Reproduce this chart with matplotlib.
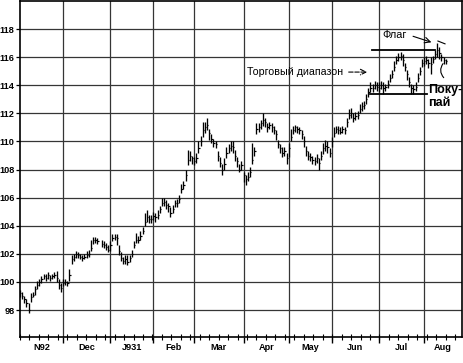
import numpy as np
import matplotlib
matplotlib.use("Agg")
import matplotlib.pyplot as plt
from matplotlib import transforms

nan = np.nan

# daily high / low / close, Nov 1992 - Aug 1993 (one value per trading day)
close = [
    # Nov
    99.2, 99.0, 98.8, 98.5, 98.0, 98.9, 99.1, 99.5, 99.8, 100.0,
    100.2, 100.4, 100.3, 100.5, 100.3, 100.4, 100.5, 100.3, 99.8, 99.6,
    # Dec
    99.9, 100.0, 99.9, 100.5, 101.6, 101.8, 102.0, 101.9, 101.8, 101.7, 101.8,
    101.9, 102.0, 102.4, 103.0, 103.0, 102.9, nan, 102.7, 102.6, 102.5, 102.3,
    # Jan
    102.6, 103.1, 103.2, 103.1, 102.2, 101.7, 101.5, 101.6, 101.4, 101.7,
    102.0, 102.6, 103.0, 103.0, 103.3, 103.6, 104.3, 104.6, 104.5, 104.5,
    # Feb
    104.7, 104.6, 104.8, 105.2, 105.6, 105.7, 105.5, 105.4, 104.9, 105.2,
    105.6, 105.6, 105.9, 106.6, 106.9, 107.6, 108.7, 109.0, 108.8,
    # Mar
    108.6, 108.8, 109.5, 110.0, 110.8, 111.0, 111.2, 110.6, 110.2, 109.9, 109.8, 109.0,
    108.5, 108.0, 108.4, 109.2, 109.5, 109.7, 109.6, 109.0, 108.6, 108.0, 108.3,
    # Apr
    107.6, 107.3, 107.5, 107.8, 108.7, 109.3, 110.9, 111.0, 111.3, 111.5, 111.4,
    111.0, 111.2, 111.0, 110.8, 110.5, 109.8, 109.5, 109.2, 109.3, 108.8,
    # May
    109.5, 110.3, 110.8, 111.0, 110.9, 110.8, 110.5, 110.0, 109.3, 109.0,
    108.9, 108.7, 108.6, 108.8, 108.5, 109.0, 109.5, 109.7, 109.6, 109.2,
    # Jun
    110.0, 110.6, 110.9, 110.8, 110.7, 110.9, 110.8, 111.4, 111.9, 112.0, 111.7,
    111.8, 111.9, 112.3, 112.5, 112.6, 113.0, 113.5, 113.8, 113.8, 114.0, 113.9,
    # Jul
    113.8, 114.0, 113.8, 113.9, 114.1, 114.5, 114.8, 115.3, 115.8, 116.0, 116.1,
    115.8, 115.3, 114.8, 114.2, 113.8, 113.7, 113.9, 114.5, 115.0, 115.6,
    # Aug
    115.7, 115.8, 115.6, 115.5, 115.9, 116.2, 116.5, 116.3, 116.0, 115.8, 115.7,
]
high = [
    99.4, 99.3, 99.0, 98.8, 98.5, 99.2, 99.3, 99.7, 100.1, 100.2,
    100.4, 100.6, 100.6, 100.7, 100.5, 100.6, 100.7, 100.8, 100.2, 99.9,
    100.2, 100.2, 100.1, 100.9, 101.9, 102.0, 102.2, 102.1, 102.0, 101.9, 102.0,
    102.2, 102.3, 103.0, 103.2, 103.2, 103.1, nan, 103.0, 102.9, 102.8, 102.6,
    102.9, 103.4, 103.4, 103.4, 102.6, 102.1, 101.8, 101.9, 101.9, 101.9,
    102.3, 102.9, 103.5, 103.3, 103.6, 103.9, 104.9, 105.1, 104.8, 104.8,
    105.0, 104.9, 105.1, 105.4, 106.0, 106.0, 105.8, 105.6, 105.3, 105.5,
    105.8, 105.9, 106.2, 107.0, 107.2, 108.0, 109.4, 109.3, 109.0,
    108.9, 109.2, 110.0, 110.4, 111.4, 111.4, 111.7, 110.9, 110.5, 110.2, 110.0, 109.3,
    108.9, 108.4, 108.8, 109.6, 109.8, 110.0, 110.0, 109.4, 108.9, 108.4, 108.6,
    107.8, 107.6, 107.8, 108.2, 109.9, 109.6, 111.3, 111.3, 111.5, 112.0, 111.7,
    111.3, 111.4, 111.3, 111.1, 110.8, 110.1, 109.8, 109.6, 109.6, 109.2,
    109.9, 110.9, 111.1, 111.2, 111.1, 111.0, 110.8, 110.4, 109.7, 109.3,
    109.2, 109.0, 108.9, 109.1, 108.8, 109.3, 109.9, 110.1, 110.0, 109.5,
    110.3, 111.0, 111.1, 111.1, 111.0, 111.1, 111.0, 111.7, 112.3, 112.4, 112.0,
    112.1, 112.2, 112.7, 112.8, 112.9, 113.4, 113.8, 114.2, 114.1, 114.3, 114.2,
    114.2, 114.3, 114.2, 114.1, 114.4, 114.8, 115.1, 115.7, 116.1, 116.3, 116.4,
    116.2, 115.6, 115.1, 114.6, 114.1, 114.0, 114.2, 114.9, 115.3, 115.9,
    116.0, 116.1, 115.9, 116.0, 116.1, 116.5, 117.0, 116.7, 116.2, 116.0, 115.9,
]
low = [
    98.9, 98.8, 98.5, 98.2, 97.8, 98.6, 98.9, 99.1, 99.5, 99.7,
    99.9, 100.2, 100.1, 100.2, 100.1, 100.2, 100.3, 100.0, 99.5, 99.3,
    99.7, 99.8, 99.7, 100.1, 101.3, 101.5, 101.7, 101.7, 101.6, 101.5, 101.6,
    101.7, 101.8, 102.2, 102.7, 102.8, 102.7, nan, 102.5, 102.4, 102.3, 102.1,
    102.2, 102.9, 103.0, 102.6, 101.9, 101.5, 101.3, 101.3, 101.2, 101.4,
    101.8, 102.4, 102.8, 102.8, 103.0, 103.4, 104.0, 104.3, 104.2, 104.2,
    104.4, 104.3, 104.5, 104.9, 105.4, 105.4, 105.2, 105.0, 104.6, 104.9,
    105.3, 105.3, 105.6, 106.3, 106.6, 107.2, 108.3, 108.6, 108.4,
    108.3, 108.5, 109.2, 109.7, 110.3, 110.6, 110.8, 110.1, 109.9, 109.6, 109.5, 108.6,
    108.2, 107.6, 108.0, 108.8, 109.2, 109.3, 109.2, 108.6, 108.2, 107.8, 108.0,
    107.1, 106.9, 107.2, 107.5, 108.4, 109.0, 110.5, 110.7, 110.9, 111.1, 111.0,
    110.7, 110.9, 110.7, 110.5, 110.1, 109.5, 109.2, 108.9, 109.0, 108.4,
    108.9, 110.0, 110.5, 110.7, 110.6, 110.5, 110.2, 109.6, 109.0, 108.7,
    108.6, 108.4, 108.3, 108.5, 108.0, 108.7, 109.1, 109.3, 109.2, 108.9,
    109.6, 110.3, 110.6, 110.5, 110.5, 110.6, 110.5, 111.0, 111.6, 111.7, 111.4,
    111.5, 111.6, 112.0, 112.2, 112.3, 112.7, 113.2, 113.5, 113.5, 113.7, 113.6,
    113.5, 113.7, 113.4, 113.6, 113.8, 114.2, 114.5, 115.0, 115.5, 115.7, 115.8,
    115.4, 115.0, 114.4, 113.9, 113.4, 113.4, 113.6, 114.2, 114.7, 115.3,
    115.4, 115.5, 115.2, 114.8, 115.6, 115.9, 116.0, 115.9, 115.7, 115.5, 115.5,
]

month_labels = ["N92", "Dec", "J931", "Feb", "Mar", "Apr", "May", "Jun", "Jul", "Aug"]
month_days = [20, 22, 20, 19, 23, 21, 20, 22, 21, 17.6]   # trading days per month shown
price_ticks = [98, 100, 102, 104, 106, 108, 110, 112, 114, 116, 118]

range_top, range_bottom = 116.5, 113.35

fig = plt.figure(figsize=(4.64, 3.63), dpi=100)
fig.patch.set_facecolor("white")
ax = fig.add_axes([20 / 464, 1 - 337 / 363, 442 / 464, 336 / 363])

bounds = np.concatenate([[0], np.cumsum(month_days)])
ax.set_xlim(0, bounds[-1])
ax.set_ylim(96.08, 120.0)

# grid: price every 2 points, vertical lines at month boundaries
ax.set_yticks(price_ticks)
ax.set_xticks(bounds[1:-1])
ax.set_xticklabels([])
ax.grid(True, color="#353535", linewidth=0.9)
ax.set_axisbelow(True)
ax.set_xticks(np.arange(0, bounds[-1], 4.4), minor=True)

ax.tick_params(axis="y", direction="out", length=3, width=0.9, pad=1,
               labelsize=6.6, colors="black")
ax.tick_params(axis="x", which="major", direction="out", length=4, width=1.0)
ax.tick_params(axis="x", which="minor", direction="inout", length=4, width=0.8)
for lab in ax.get_yticklabels():
    lab.set_fontweight("bold")
    lab.set_family("Liberation Sans")

for s in ax.spines.values():
    s.set_linewidth(1.2)
    s.set_color("black")

# month labels centred in each month
trans = transforms.blended_transform_factory(ax.transData, ax.transAxes)
for i, name in enumerate(month_labels):
    ax.text((bounds[i] + bounds[i + 1]) / 2, -0.03, name, transform=trans,
            ha="center", va="center", fontsize=6.6, fontweight="bold",
            family="Liberation Sans")

# HLC bars
c = np.array(close)
h = np.array(high)
l = np.array(low)
x = np.arange(len(c))
ok = ~np.isnan(c)
ax.vlines(x[ok], l[ok], h[ok], color="black", linewidth=0.95)
ax.hlines(c[ok], x[ok], x[ok] + 0.6, color="black", linewidth=0.85)

# trading range lines
ax.plot([163.7, 193.0], [range_top, range_top], color="black", linewidth=1.3)
ax.plot([162.8, 189.3], [range_bottom, range_bottom], color="black", linewidth=1.3)

# flag
ax.plot([194.4, 197.7], [117.15, 116.95], color="black", linewidth=0.8)
ax.annotate("", xy=(198.0, 114.4), xytext=(197.6, 115.7),
            arrowprops=dict(arrowstyle="-", color="black", linewidth=0.8,
                            connectionstyle="arc3,rad=0.5"))

ax.text(168.4, 117.57, "Флаг", fontsize=7.8, family="Liberation Sans",
        ha="left", va="center")
ax.annotate("", xy=(192.6, 117.0), xytext=(181.6, 117.55),
            arrowprops=dict(arrowstyle="->", color="black", linewidth=0.8))

ax.text(105.6, 114.94, "Торговый диапазон", fontsize=7.7, family="Liberation Sans",
        ha="left", va="center")
ax.annotate("", xy=(162.8, 114.94), xytext=(151.6, 114.94),
            arrowprops=dict(arrowstyle="->", color="black", linewidth=0.8,
                            linestyle=(0, (4, 1.5))))

ax.text(189.8, 113.66, "Поку-", fontsize=9, fontweight="bold",
        family="Liberation Sans", ha="left", va="center")
ax.text(189.8, 112.75, "пай", fontsize=9, fontweight="bold",
        family="Liberation Sans", ha="left", va="center")

fig.savefig("out.png", dpi=100, facecolor="white")
